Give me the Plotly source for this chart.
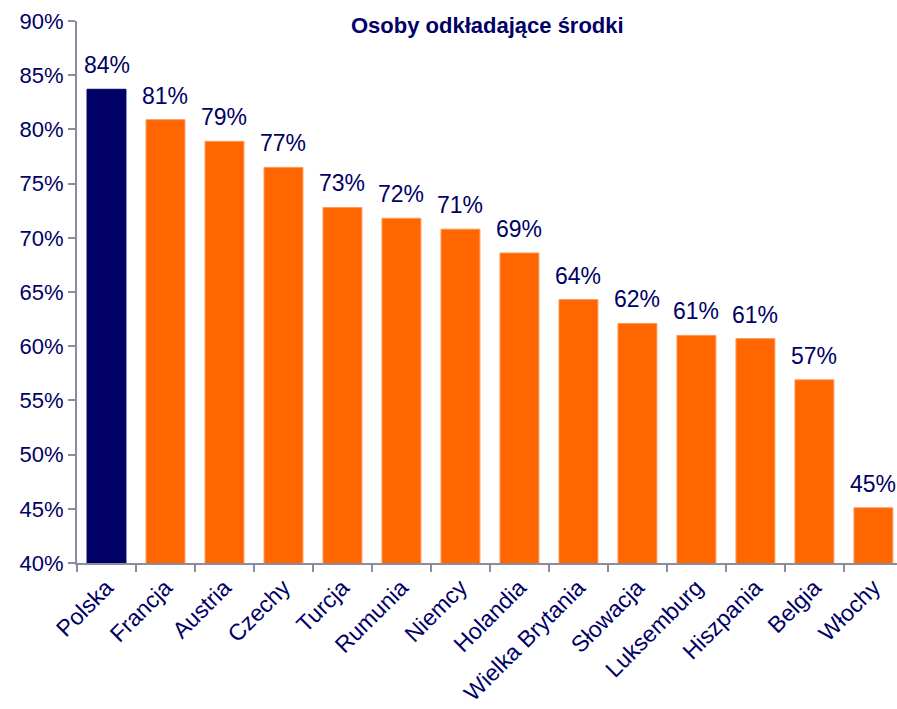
import plotly.graph_objects as go

categories = ["Polska", "Francja", "Austria", "Czechy", "Turcja", "Rumunia", "Niemcy",
              "Holandia", "Wielka Brytania", "Słowacja", "Luksemburg", "Hiszpania",
              "Belgia", "Włochy"]
values = [83.7, 80.9, 78.9, 76.5, 72.8, 71.8, 70.8, 68.6, 64.3, 62.1, 61.0, 60.7, 56.9, 45.1]
labels = ["84%", "81%", "79%", "77%", "73%", "72%", "71%", "69%", "64%", "62%", "61%",
          "61%", "57%", "45%"]
ytick_vals = [40, 45, 50, 55, 60, 65, 70, 75, 80, 85, 90]
ytick_text = ["40%", "45%", "50%", "55%", "60%", "65%", "70%", "75%", "80%", "85%", "90%"]

navy = "#000066"
orange = "#FF6600"
colors = [navy] + [orange] * (len(categories) - 1)
edge = ["#000066"] + ["#FF9A5C"] * (len(categories) - 1)
FONT = "Liberation Sans, Arial"

fig = go.Figure(go.Bar(
    x=categories, y=values, base=0,
    marker=dict(color=colors, line=dict(color=edge, width=1)),
    width=0.66,
))

annotations = [dict(
    x=c, y=v, text=t, xref="x", yref="y", xanchor="center", yanchor="bottom",
    yshift=9, showarrow=False, font=dict(family=FONT, size=23, color=navy),
) for c, v, t in zip(categories, values, labels)]

annotations.append(dict(
    text="<b>Osoby odkładające środki</b>", xref="paper", yref="paper",
    x=0.5, y=1.0, xanchor="center", yanchor="middle", yshift=-4, showarrow=False,
    font=dict(size=22, color=navy, family=FONT),
))

axis_col = "#8C8C9E"
fig.update_layout(
    width=897, height=709,
    margin=dict(l=77, r=0, t=21, b=146),
    paper_bgcolor="white", plot_bgcolor="white",
    showlegend=False,
    font=dict(family=FONT, color=navy),
    xaxis=dict(
        range=[-0.5, 13.4], tickangle=-45, tickson="boundaries", automargin=False,
        ticks="outside", ticklen=7, tickwidth=2, tickcolor=axis_col,
        showline=True, linecolor=axis_col, linewidth=2,
        tickfont=dict(size=23, color=navy), showgrid=False,
    ),
    yaxis=dict(
        range=[40, 90], tickvals=ytick_vals, ticktext=ytick_text, automargin=False,
        ticks="outside", ticklen=7, tickwidth=2, tickcolor=axis_col,
        showline=True, linecolor=axis_col, linewidth=2,
        tickfont=dict(size=22, color=navy), showgrid=False, zeroline=False,
    ),
    annotations=annotations,
)

fig.write_html(
    "out.html",
    config={"displayModeBar": False},
    post_script="document.body.style.margin='0';document.body.style.overflow='hidden';",
)
